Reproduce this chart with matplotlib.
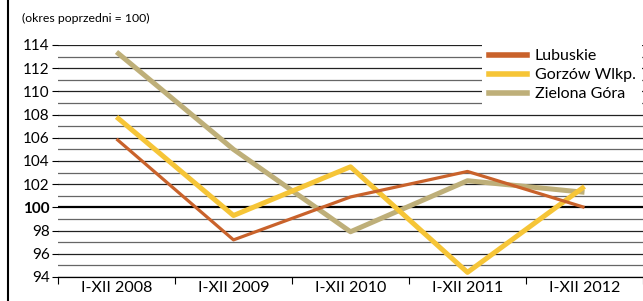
import matplotlib
matplotlib.use("Agg")
import matplotlib.pyplot as plt
from matplotlib.lines import Line2D

categories = ["I-XII 2008", "I-XII 2009", "I-XII 2010", "I-XII 2011", "I-XII 2012"]
lubuskie = [105.9, 97.2, 100.9, 103.1, 100.0]
gorzow = [107.8, 99.3, 103.5, 94.4, 101.8]
zielona = [113.4, 105.0, 97.9, 102.3, 101.3]
series_names = ["Lubuskie", "Gorzów Wlkp.", "Zielona Góra"]
yticks = list(range(94, 115, 2))

plt.rcParams['font.family'] = ['Lato', 'DejaVu Sans']

W, H = 643, 301
fig = plt.figure(figsize=(W / 100, H / 100), dpi=100)
ax = fig.add_axes([58 / W, 24 / H, 585 / W, 232 / H])

x = list(range(len(categories)))
# grid lines
for v in range(94, 115):
    if v == 100:
        ax.axhline(v, color='black', lw=1.6, zorder=1)
    else:
        ax.axhline(v, color='#222222' if v % 2 == 0 else '#666666', lw=0.9, zorder=1)

ax.plot(x, zielona, color='#BEAF79', lw=3.6, solid_capstyle='butt', zorder=3)
ax.plot(x, gorzow, color='#F6C537', lw=3.6, solid_capstyle='butt', zorder=4)
ax.plot(x, lubuskie, color='#C9622B', lw=2.3, solid_capstyle='butt', zorder=5)

ax.set_xlim(-0.5, len(categories) - 0.5)
ax.set_ylim(94, 114)
ax.set_yticks(yticks)
ax.set_yticklabels([str(t) for t in yticks], fontsize=11)
for lbl in ax.get_yticklabels():
    if lbl.get_text() == "100":
        lbl.set_fontweight('bold')
ax.set_xticks(x)
ax.set_xticklabels(categories, fontsize=11.5)
ax.tick_params(axis='x', length=0, pad=3)
ax.set_xticks([i - 0.5 for i in range(len(categories) + 1)], minor=True)
ax.tick_params(axis='x', which='minor', length=5, width=0.8, color='black')
ax.tick_params(axis='y', length=4, width=0.8, pad=2)
for s in ['top', 'right', 'left']:
    ax.spines[s].set_visible(False)
ax.spines['bottom'].set_linewidth(0.9)

handles = [Line2D([], [], color='#C9622B', lw=4),
           Line2D([], [], color='#F6C537', lw=4),
           Line2D([], [], color='#BEAF79', lw=4)]
leg = ax.legend(handles, series_names, loc='upper left', bbox_to_anchor=(0.725, 1.01),
                borderaxespad=0, frameon=True, facecolor='white', edgecolor='none',
                framealpha=1, fancybox=False, fontsize=11.5, handlelength=2.4,
                handletextpad=0.5, labelspacing=0.3, borderpad=0.4)
leg.set_zorder(10)

fig.text(22 / W, 1 - 18 / H, "(okres poprzedni = 100)", fontsize=8.8, va='center', ha='left')
fig.add_artist(Line2D([8 / W, 8 / W], [0, 1], color='black', lw=1.5, transform=fig.transFigure))

fig.savefig("out.png", dpi=100)
